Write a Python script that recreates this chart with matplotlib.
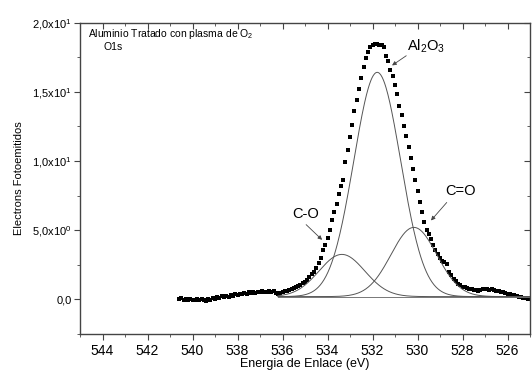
import numpy as np
import matplotlib
matplotlib.use("Agg")
import matplotlib.pyplot as plt
from matplotlib.ticker import MultipleLocator, FixedLocator

# ---------------- data ----------------
start_energy = 540.6   # eV, first measured point
step_energy = 0.1      # eV between points (decreasing)
counts = [
    0.02, 0.08, -0.03, 0.05, -0.06, 0.00, -0.08, -0.02, 0.04, -0.05,
    0.06, -0.04, -0.12, 0.02, -0.08, 0.10, 0.05, 0.18, 0.12, 0.22,
    0.15, 0.28, 0.20, 0.34, 0.27, 0.38, 0.31, 0.42, 0.36, 0.45,
    0.40, 0.50, 0.44, 0.52, 0.47, 0.55, 0.50, 0.58, 0.52, 0.56,
    0.60, 0.50, 0.57, 0.45, 0.40, 0.48, 0.55, 0.60,
    0.62, 0.70, 0.78, 0.85, 0.90, 0.96, 1.05, 1.15, 1.28, 1.42,
    1.60, 1.80, 2.00, 2.30, 2.65, 3.00, 3.60, 3.95, 4.40, 5.00,
    5.75, 6.30, 6.90, 7.60, 8.20, 8.65, 9.90, 10.8, 11.7, 12.6,
    13.6, 14.4, 15.2, 16.0, 16.8, 17.4, 17.9, 18.2, 18.4, 18.45,
    18.45, 18.4, 18.35, 18.2, 17.6, 17.2, 16.6, 16.1, 15.5, 14.8,
    14.0, 13.3, 12.5, 11.8, 11.0, 10.2, 9.40, 8.60, 7.80, 7.00,
    6.30, 5.60, 5.00, 4.70, 4.35, 3.90, 3.55, 3.25, 3.00, 2.80,
    2.70, 2.55, 2.00, 1.75, 1.50, 1.30, 1.12, 1.02, 0.93, 0.86,
    0.82, 0.76, 0.72, 0.68, 0.65, 0.60, 0.66, 0.72, 0.74, 0.72,
    0.70, 0.72, 0.66, 0.62, 0.58, 0.55, 0.50, 0.45, 0.42, 0.37,
    0.33, 0.30, 0.25, 0.20, 0.17, 0.12, 0.10, 0.06, 0.04,
]

# fitted components: centre, height above baseline, FWHM
peak_names = ["C-O", "Al2O3", "C=O"]
peak_centers = [533.36, 531.79, 530.16]
peak_heights = [3.05, 16.2, 5.0]
peak_fwhm = [2.4, 2.45, 2.4]
baseline_level = 0.2
fit_range = [536.2, 525.0]

xticks = [544, 542, 540, 538, 536, 534, 532, 530, 528, 526]
yticks = [0, 5, 10, 15, 20]
ytick_labels = ["0,0", r"5,0x10$^{0}$", r"1,0x10$^{1}$", r"1,5x10$^{1}$", r"2,0x10$^{1}$"]

# ---------------- style ----------------
fam = ["Liberation Sans Narrow", "Liberation Sans", "DejaVu Sans"]
plt.rcParams["font.family"] = fam
plt.rcParams["mathtext.fontset"] = "custom"
plt.rcParams["mathtext.rm"] = "Liberation Sans"
plt.rcParams["mathtext.it"] = "Liberation Sans"
plt.rcParams["mathtext.bf"] = "Liberation Sans"

fig = plt.figure(figsize=(5.32, 3.74), dpi=100)
ax = fig.add_axes([80 / 532, 1 - 334 / 374, 450 / 532, (334 - 22.5) / 374])

energy = start_energy - step_energy * np.arange(len(counts))
ax.plot(energy, counts, linestyle="none", marker="s", markersize=3.5,
        color="black", markeredgewidth=0)

xf = np.linspace(fit_range[0], fit_range[1], 400)
ax.plot(fit_range, [baseline_level, baseline_level], color="#777777", lw=0.7)
for c, h, w in zip(peak_centers, peak_heights, peak_fwhm):
    s = w / 2.3548
    ax.plot(xf, baseline_level + h * np.exp(-0.5 * ((xf - c) / s) ** 2),
            color="#555555", lw=0.7)

ax.set_xlim(545, 525)
ax.set_ylim(-2.5, 20)

ax.xaxis.set_major_locator(FixedLocator(xticks))
ax.xaxis.set_minor_locator(MultipleLocator(1))
ax.yaxis.set_major_locator(FixedLocator(yticks))
ax.yaxis.set_minor_locator(MultipleLocator(2.5))
ax.set_yticklabels(ytick_labels)

ax.tick_params(axis="both", which="both", top=True, right=True, direction="out",
               color="#444444")
ax.tick_params(axis="x", which="major", labelsize=10, length=4, pad=3)
ax.tick_params(axis="x", which="minor", length=2.5)
ax.tick_params(axis="y", which="major", labelsize=8, length=4, pad=2)
ax.tick_params(axis="y", which="minor", length=2.5)
# top and right ticks point inward
for t in ax.xaxis.get_major_ticks() + ax.xaxis.get_minor_ticks():
    t.tick2line.set_marker(3)
for t in ax.yaxis.get_major_ticks() + ax.yaxis.get_minor_ticks():
    t.tick2line.set_marker(0)

for sp in ax.spines.values():
    sp.set_color("#444444")
    sp.set_linewidth(1.0)

ax.set_xlabel("Energia de Enlace (eV)", fontsize=9, labelpad=0)
ax.set_ylabel("Electrons Fotoemitidos", fontsize=8, labelpad=6)

ax.text(544.65, 19.2, r"Aluminio Tratado con plasma de O$_{2}$", fontsize=7.5,
        ha="left", va="center")
ax.text(543.95, 18.2, "O1s", fontsize=7.5, ha="left", va="center")

arrow = dict(arrowstyle="-|>", lw=0.6, color="#444444", mutation_scale=6,
             shrinkA=0, shrinkB=0)
ax.text(530.45, 18.3, r"Al$_{2}$O$_{3}$", fontsize=10.5, ha="left", va="center")
ax.annotate("", xy=(531.13, 16.9), xytext=(530.5, 17.6), arrowprops=arrow)
ax.text(534.98, 6.2, "C-O", fontsize=10.5, ha="center", va="center")
ax.annotate("", xy=(534.24, 4.3), xytext=(534.95, 5.4), arrowprops=arrow)
ax.text(528.07, 7.8, "C=O", fontsize=10.5, ha="center", va="center")
ax.annotate("", xy=(529.4, 5.7), xytext=(528.7, 7.0), arrowprops=arrow)

fig.savefig("out.png", dpi=100)
